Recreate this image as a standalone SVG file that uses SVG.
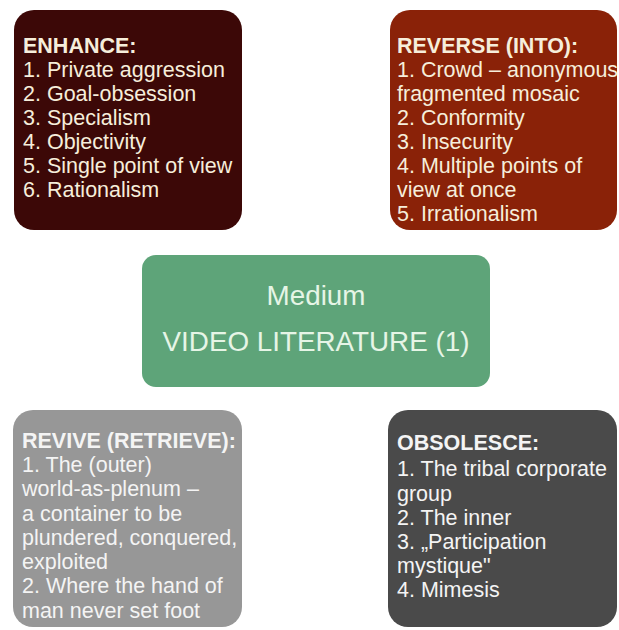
<svg xmlns="http://www.w3.org/2000/svg" width="619" height="630" viewBox="0 0 619 630">
<style>
  text { font-family: "Liberation Sans", Arial, sans-serif; font-size: 21.5px; }
  .h { font-weight: bold; }
  .cream { fill: #f6eedb; }
  .white { fill: #f4f4f4; }
  .mid { fill: #e6f5e6; font-size: 27.8px; }
</style>
<rect width="619" height="630" fill="#ffffff"/>
<g id="enhance">
  <rect x="14" y="10" width="228" height="220" rx="20" fill="#3c0807"/>
  <text class="cream">
    <tspan class="h" x="23" y="53">ENHANCE:</tspan>
    <tspan x="23" y="77">1. Private aggression</tspan>
    <tspan x="23" y="101">2. Goal-obsession</tspan>
    <tspan x="23" y="125">3. Specialism</tspan>
    <tspan x="23" y="149">4. Objectivity</tspan>
    <tspan x="23" y="173">5. Single point of view</tspan>
    <tspan x="23" y="197">6. Rationalism</tspan>
  </text>
</g>
<g id="reverse">
  <rect x="390" y="10" width="227" height="220" rx="20" fill="#8a2208"/>
  <text class="cream">
    <tspan class="h" x="397" y="53">REVERSE (INTO):</tspan>
    <tspan x="397" y="77">1. Crowd – anonymous</tspan>
    <tspan x="397" y="101">fragmented mosaic</tspan>
    <tspan x="397" y="125">2. Conformity</tspan>
    <tspan x="397" y="149">3. Insecurity</tspan>
    <tspan x="397" y="173">4. Multiple points of</tspan>
    <tspan x="397" y="197">view at once</tspan>
    <tspan x="397" y="221">5. Irrationalism</tspan>
  </text>
</g>
<g id="medium">
  <rect x="142" y="255" width="348" height="132" rx="14" fill="#5ea479"/>
  <text class="mid" x="316" y="305" text-anchor="middle">Medium</text>
  <text class="mid" x="316" y="351" text-anchor="middle">VIDEO LITERATURE (1)</text>
</g>
<g id="revive">
  <rect x="13" y="410" width="229" height="217" rx="20" fill="#979797"/>
  <text class="white">
    <tspan class="h" x="22" y="448">REVIVE (RETRIEVE):</tspan>
    <tspan x="22" y="472">1. The (outer)</tspan>
    <tspan x="22" y="496">world-as-plenum –</tspan>
    <tspan x="22" y="521">a container to be</tspan>
    <tspan x="22" y="545">plundered, conquered,</tspan>
    <tspan x="22" y="569">exploited</tspan>
    <tspan x="22" y="593">2. Where the hand of</tspan>
    <tspan x="22" y="618">man never set foot</tspan>
  </text>
</g>
<g id="obsolesce">
  <rect x="388" y="410" width="229" height="217" rx="20" fill="#4a4a4a"/>
  <text class="white">
    <tspan class="h" x="397" y="450">OBSOLESCE:</tspan>
    <tspan x="397" y="476">1. The tribal corporate</tspan>
    <tspan x="397" y="501">group</tspan>
    <tspan x="397" y="525">2. The inner</tspan>
    <tspan x="397" y="549">3. „Participation</tspan>
    <tspan x="397" y="573">mystique"</tspan>
    <tspan x="397" y="597">4. Mimesis</tspan>
  </text>
</g>
<g id="connectors"></g>
</svg>
